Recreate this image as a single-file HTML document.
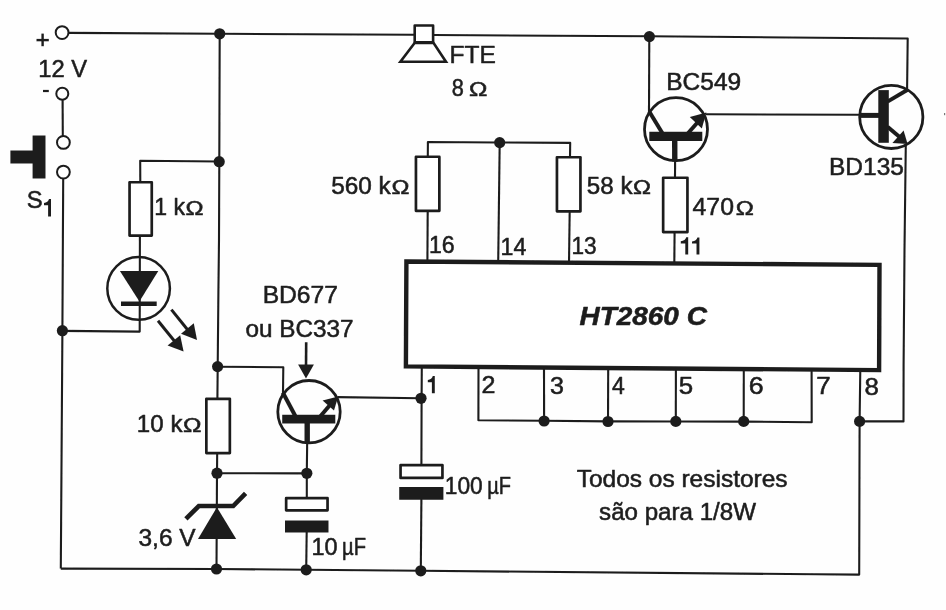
<!DOCTYPE html>
<html><head><meta charset="utf-8"><title>HT2860 C circuit</title>
<style>
html,body{margin:0;padding:0;background:#fff;}
body{width:946px;height:610px;overflow:hidden;font-family:"Liberation Sans",sans-serif;}
svg{display:block;will-change:transform;}
svg text{font-family:"Liberation Sans",sans-serif;fill:#1e1e1e;stroke:#1e1e1e;stroke-width:0.55px;stroke-linejoin:round;}
</style></head><body>
<svg width="946" height="610" viewBox="0 0 946 610" fill="none" stroke="#1e1e1e" stroke-linecap="butt" stroke-linejoin="round">
<defs><filter id="soft" x="0" y="0" width="946" height="610" filterUnits="userSpaceOnUse"><feGaussianBlur stdDeviation="0.42"/></filter></defs>
<rect x="0" y="0" width="946" height="610" fill="#fefefe" stroke="none"/>
<g filter="url(#soft)">
<polyline points="69,32.9 219.7,33.8 414.5,34.7" stroke-width="2.1" />
<polyline points="433.5,35 649.3,36.3 907.7,38.5 907.1,89" stroke-width="2.1" />
<polyline points="62.6,99.8 62.8,136" stroke-width="2.1" />
<polyline points="63.2,179 62.4,330.8 60.8,568.6" stroke-width="2.1" />
<polyline points="60.8,568.6 216.5,569 306.2,569.8 420.8,570.8 816,574.3 859.2,574.6 859.6,421.4 860.3,369" stroke-width="2.1" />
<polyline points="219.7,33.8 219.3,161.7 219,240 218.4,292 217.7,366.6 217.4,399" stroke-width="2.1" />
<polyline points="217.2,452 217,473.3 216.5,569" stroke-width="2.1" />
<polyline points="219.2,161.5 140.2,160.7 140.3,183" stroke-width="2.1" />
<polyline points="139.9,235 139.7,331.6 62.4,330.9" stroke-width="2.1" />
<polyline points="217.7,366.8 283.3,367.2 283,393" stroke-width="2.1" />
<polyline points="217,473.2 306.8,473.4" stroke-width="2.1" />
<polyline points="307.2,440 306.8,473.4 306.8,498" stroke-width="2.1" />
<polyline points="306.7,531 306.2,569.8" stroke-width="2.1" />
<polyline points="337.5,397.1 421,398.3" stroke-width="2.1" />
<polyline points="421.8,366 421.6,398.3 421.4,465" stroke-width="2.1" />
<polyline points="421.4,499 420.8,570.8" stroke-width="2.1" />
<polyline points="478.5,366 478.4,420.2 544.1,420.8 608,421.4 675.8,421.5 743.7,421.6 811.7,422.2 811.6,368" stroke-width="2.1" />
<polyline points="544,367 544.1,420.9" stroke-width="2.1" />
<polyline points="608.2,367.5 608,421.4" stroke-width="2.1" />
<polyline points="675.9,368 675.8,421.5" stroke-width="2.1" />
<polyline points="743.8,368.5 743.7,421.6" stroke-width="2.1" />
<polyline points="859.6,421.4 903.5,421.4 903.6,365 904.5,250 905.8,144" stroke-width="2.1" />
<polyline points="427.8,157 427.9,142 499.7,142.5 570.2,142.9 570,157" stroke-width="2.1" />
<polyline points="427.7,210.5 427.4,262" stroke-width="2.1" />
<polyline points="499.7,142.5 498.2,262" stroke-width="2.1" />
<polyline points="569.7,210.5 569,263" stroke-width="2.1" />
<polyline points="649.3,36.3 649,112.5" stroke-width="2.1" />
<polyline points="675.1,160 675,178.5" stroke-width="2.1" />
<polyline points="674.6,231 674.3,264" stroke-width="2.1" />
<polyline points="706,114.3 860,114.8" stroke-width="2.1" />
<polygon points="406.4,261.5 879.5,264.9 879.1,370.1 405.9,366.4" fill="#fff" stroke-width="4.4" stroke-linejoin="miter"/>
<rect x="129.55" y="182.25" width="22.2" height="53.3" fill="#fff" stroke-width="2.7"/>
<rect x="206.35" y="398.85" width="23.5" height="54.2" fill="#fff" stroke-width="2.7"/>
<rect x="415.95" y="156.75" width="23.4" height="54.1" fill="#fff" stroke-width="2.7"/>
<rect x="556.95" y="157.25" width="23.5" height="54.1" fill="#fff" stroke-width="2.7"/>
<rect x="663.15" y="177.75" width="24.3" height="54.3" fill="#fff" stroke-width="2.7"/>
<rect x="286.15" y="498.15" width="41.4" height="12.2" fill="#fff" stroke-width="2.7"/>
<polygon points="285,520.4 328.5,520.4 328.5,532.6 285,532.6" fill="#1e1e1e" stroke="none" />
<rect x="400.55" y="465.15" width="41.9" height="12.8" fill="#fff" stroke-width="2.7"/>
<polygon points="399.2,487.1 443.4,487.1 443.4,499.8 399.2,499.8" fill="#1e1e1e" stroke="none" />
<rect x="414.7" y="25.5" width="18.4" height="16.8" fill="#fff" stroke-width="2.6"/>
<polygon points="414.6,43 433.6,43 446,61.8 400.4,61.6" fill="#fff" stroke-width="2.6" stroke-linejoin="miter"/>
<circle cx="62.1" cy="32.6" r="6.4" fill="#fff" stroke-width="2"/>
<circle cx="62.3" cy="93.8" r="6" fill="#fff" stroke-width="2"/>
<circle cx="63.4" cy="142.4" r="6.4" fill="#fff" stroke-width="2"/>
<circle cx="63.4" cy="172.1" r="6.4" fill="#fff" stroke-width="2"/>
<polyline points="36.5,40.1 48.8,40.1" stroke-width="2.4" />
<polyline points="42.6,33.6 42.6,46.2" stroke-width="2.4" />
<polyline points="43,91 48.8,91" stroke-width="2.2" />
<polygon points="10.4,150.4 32.6,150.4 32.6,135.4 45.5,135.4 45.5,178.5 32.6,178.5 32.6,163.5 10.4,163.5" fill="#1e1e1e" stroke="none" />
<circle cx="138.6" cy="288.4" r="31.3" fill="none" stroke-width="2.5"/>
<polygon points="119.9,271 158.3,271 139.4,301.6" fill="#1e1e1e" stroke="none" />
<polyline points="121,303.8 156.7,303.8" stroke-width="4.4" />
<polyline points="171.4,309.6 188,330.2" stroke-width="3" />
<polygon points="193.8,323.2 181,333.8 197,340" fill="#1e1e1e" stroke="none" />
<polyline points="158,320.8 174.6,341.2" stroke-width="3" />
<polygon points="180.2,335.2 167.6,345.4 183.6,351.6" fill="#1e1e1e" stroke="none" />
<polyline points="185.9,518.8 198.8,506 233.2,506 245.6,493.4" stroke-width="4.6" stroke-linejoin="miter"/>
<polygon points="216.9,507.2 236.2,539 198,539" fill="#1e1e1e" stroke="none" />
<circle cx="309.0" cy="411.7" r="31.2" fill="none" stroke-width="2.8"/>
<polygon points="282.2,414.8 335.3,414.8 335.3,423.6 282.2,423.6" fill="#1e1e1e" stroke="none" />
<polyline points="307.2,423 307.2,442.5" stroke-width="5.4" />
<polyline points="282.8,392.5 295.6,416.5" stroke-width="4" />
<polyline points="320.4,416.2 333,401.5" stroke-width="4" />
<polygon points="322.6,400.6 338.2,396.6 334,410.6" fill="#1e1e1e" stroke="none" />
<polyline points="306.2,342.2 306,366" stroke-width="2.6" />
<polygon points="298.1,364.6 313.9,364.6 306,378.6" fill="#1e1e1e" stroke="none" />
<circle cx="676.0" cy="129.2" r="31.5" fill="none" stroke-width="2.8"/>
<polygon points="649.3,131.8 702.3,131.8 702.3,141 649.3,141" fill="#1e1e1e" stroke="none" />
<polyline points="674.7,140 674.8,161.5" stroke-width="5.4" />
<polyline points="649.2,111.5 662.6,133.5" stroke-width="4" />
<polyline points="688,133.2 701,118.5" stroke-width="4" />
<polygon points="689.8,117 706.4,112.4 701.8,128.6" fill="#1e1e1e" stroke="none" />
<circle cx="891.3" cy="116.9" r="31.6" fill="none" stroke-width="2.8"/>
<polygon points="878.3,90.1 888.8,90.1 888.8,142.8 878.3,142.8" fill="#1e1e1e" stroke="none" />
<polyline points="859.5,115.4 879,115.4" stroke-width="5" />
<polyline points="887.5,101.6 907.6,89.8" stroke-width="4" />
<polyline points="887.5,126.8 902,139" stroke-width="4" />
<polygon points="903.6,130.6 907.6,144 892.4,143" fill="#1e1e1e" stroke="none" />
<circle cx="219.7" cy="33.8" r="5.6" fill="#1e1e1e" stroke="none"/>
<circle cx="219.2" cy="161.7" r="5.6" fill="#1e1e1e" stroke="none"/>
<circle cx="62.4" cy="330.7" r="5.6" fill="#1e1e1e" stroke="none"/>
<circle cx="217.6" cy="366.6" r="5.6" fill="#1e1e1e" stroke="none"/>
<circle cx="217" cy="473.2" r="5.6" fill="#1e1e1e" stroke="none"/>
<circle cx="306.8" cy="473.3" r="5.6" fill="#1e1e1e" stroke="none"/>
<circle cx="216.5" cy="569" r="5.6" fill="#1e1e1e" stroke="none"/>
<circle cx="306.2" cy="569.8" r="5.6" fill="#1e1e1e" stroke="none"/>
<circle cx="420.8" cy="570.8" r="5.6" fill="#1e1e1e" stroke="none"/>
<circle cx="421" cy="398.3" r="5.6" fill="#1e1e1e" stroke="none"/>
<circle cx="544.1" cy="421" r="5.6" fill="#1e1e1e" stroke="none"/>
<circle cx="608" cy="421.5" r="5.6" fill="#1e1e1e" stroke="none"/>
<circle cx="675.8" cy="421.4" r="5.6" fill="#1e1e1e" stroke="none"/>
<circle cx="743.7" cy="421.4" r="5.6" fill="#1e1e1e" stroke="none"/>
<circle cx="859.6" cy="421.4" r="5.6" fill="#1e1e1e" stroke="none"/>
<circle cx="499.7" cy="142.6" r="5.6" fill="#1e1e1e" stroke="none"/>
<circle cx="649.4" cy="36.6" r="5.6" fill="#1e1e1e" stroke="none"/>
<path d="M434.8,393.3 V376.1 H432.8 C432.3,378.4 430.4,379.7 427.8,380.1 V382.3 H431.9 V393.3 Z" fill="#1e1e1e" stroke="none"/>
<path d="M51,216.6 V199 H49 C48.5,201.3 46.6,202.6 44,203 V205.2 H48.1 V216.6 Z" fill="#1e1e1e" stroke="none"/>
<path d="M688.2,254.5 V237.3 H686.2 C685.7,239.6 683.8,240.9 680.8,241.3 V243.5 H685.3 V254.5 Z" fill="#1e1e1e" stroke="none"/>
<path d="M699.4,254.6 V237.4 H697.4 C696.9,239.7 695,241 692,241.4 V243.6 H696.5 V254.6 Z" fill="#1e1e1e" stroke="none"/>
<rect x="944" y="113" width="1.2" height="2.2" fill="#777" stroke="none"/>
<text transform="translate(38.29,77) scale(0.9909,1)" font-size="24">12 V</text>
<text transform="translate(26.63,208.3) scale(0.9930,1)" font-size="24">S</text>
<text transform="translate(154.24,215) scale(0.9598,1)" font-size="24">1 k</text>
<text transform="translate(185.52,215) scale(1.1532,1)" font-size="21">Ω</text>
<text transform="translate(262.65,303.1) scale(1.0271,1)" font-size="24">BD677</text>
<text transform="translate(245.41,336.9) scale(1.0136,1)" font-size="24">ou BC337</text>
<text transform="translate(136.87,431.8) scale(1.0048,1)" font-size="24">10 k</text>
<text transform="translate(183,431.8) scale(1.1810,1)" font-size="21">Ω</text>
<text transform="translate(138.51,545.7) scale(1.0206,1)" font-size="24">3,6 V</text>
<text transform="translate(311.41,555.4) scale(0.9777,1)" font-size="24">10</text>
<text transform="translate(342.11,555.4) scale(0.8415,1)" font-size="24">µF</text>
<text transform="translate(444.85,494.3) scale(0.9474,1)" font-size="24">100</text>
<text transform="translate(487.32,494.3) scale(0.8339,1)" font-size="24">µF</text>
<text transform="translate(449.46,63) scale(1.0213,1)" font-size="24">FTE</text>
<text transform="translate(451.79,96.1) scale(0.9075,1)" font-size="24">8</text>
<text transform="translate(469,96.1) scale(1.1740,1)" font-size="21">Ω</text>
<text transform="translate(331.21,193.5) scale(1.0157,1)" font-size="24">560 k</text>
<text transform="translate(391.42,193.5) scale(1.1463,1)" font-size="21">Ω</text>
<text transform="translate(586.82,193.8) scale(1.0080,1)" font-size="24">58 k</text>
<text transform="translate(633.12,193.8) scale(1.1463,1)" font-size="21">Ω</text>
<text transform="translate(692.59,215) scale(1.0328,1)" font-size="24">470</text>
<text transform="translate(735.72,215) scale(1.1532,1)" font-size="21">Ω</text>
<text transform="translate(666.26,89.6) scale(1.0215,1)" font-size="24">BC549</text>
<text transform="translate(828.96,175.3) scale(1.0215,1)" font-size="24">BD135</text>
<text transform="translate(428.93,253.2) scale(0.9640,1)" font-size="24">16</text>
<text transform="translate(500.53,254.6) scale(0.9655,1)" font-size="24">14</text>
<text transform="translate(571.46,254.3) scale(0.9433,1)" font-size="24">13</text>
<text transform="translate(579.54,325.2) scale(1.0747,1)" font-size="26" font-weight="bold" font-style="italic">HT2860 C</text>
<text transform="translate(481.4,393.2) scale(1.0444,1)" font-size="24">2</text>
<text transform="translate(549.99,393.5) scale(1.0452,1)" font-size="24">3</text>
<text transform="translate(612.12,393.7) scale(0.9576,1)" font-size="24">4</text>
<text transform="translate(678.87,394) scale(1.0796,1)" font-size="24">5</text>
<text transform="translate(748.72,394.2) scale(1.1156,1)" font-size="24">6</text>
<text transform="translate(816.36,394.4) scale(1.0800,1)" font-size="24">7</text>
<text transform="translate(864.57,394.6) scale(1.0796,1)" font-size="24">8</text>
<text transform="translate(576.69,486.8) scale(1.0205,1)" font-size="24">Todos os resistores</text>
<text transform="translate(599.1,519.5) scale(1.0053,1)" font-size="24">são para 1/8W</text>
</g>
</svg>
</body></html>
